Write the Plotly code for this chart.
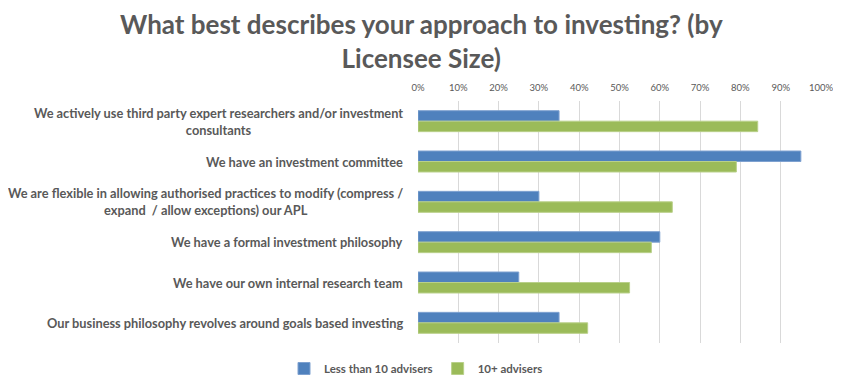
import plotly.graph_objects as go

categories = [
    "We actively use third party expert researchers and/or investment<br>consultants",
    "We have an investment committee",
    "We are flexible in allowing authorised practices to modify (compress /<br>expand  / allow exceptions) our APL",
    "We have a formal investment philosophy",
    "We have our own internal research team",
    "Our business philosophy revolves around goals based investing",
]
less_than_10 = [0.35, 0.95, 0.30, 0.60, 0.25, 0.35]
ten_plus = [0.843, 0.79, 0.631, 0.579, 0.525, 0.421]
x_ticks = [i / 10 for i in range(11)]
x_tick_labels = [f"{i*10}%" for i in range(11)]
title_text = "What best describes your approach to investing? (by<br>Licensee Size)"

FONT = "Lato"
GREY = "#595959"
OFF = 8  # browser body margin
W, H = 841 - OFF, 385 - OFF
L, R, T, B = 418 - OFF, 20, 101 - OFF, 42
PH = H - T - B
PW = W - L - R


def px_x(page_x):
    return (page_x - OFF - L) / PW


def px_y(page_y):
    return (H - B - (page_y - OFF)) / PH


fig = go.Figure()
fig.add_trace(go.Bar(y=categories, x=less_than_10, orientation="h", name="Less than 10 advisers",
                     marker=dict(color="#4F81BD", line=dict(color="#7EA1D0", width=1))))
fig.add_trace(go.Bar(y=categories, x=ten_plus, orientation="h", name="10+ advisers",
                     marker=dict(color="#9BBB59", line=dict(color="#B9D08A", width=1))))

for c in categories:
    fig.add_annotation(x=px_x(405), xref="paper", y=c, yref="y", text=c, showarrow=False,
                       xanchor="right", align="center",
                       font=dict(family=FONT, size=12.8, color=GREY, weight="bold"))

fig.add_annotation(x=px_x(421), xref="paper", y=px_y(41), yref="paper",
                   xanchor="center", yanchor="middle", text=title_text, showarrow=False,
                   align="center", borderpad=0,
                   font=dict(family=FONT, size=26, color=GREY, weight="bold"))

fig.update_layout(
    width=W, height=H,
    margin=dict(l=L, r=R, t=T, b=B, autoexpand=False),
    paper_bgcolor="white", plot_bgcolor="white",
    barmode="group", bargap=0.48, bargroupgap=0,
    xaxis=dict(side="top", range=[0, 1.0], tickvals=x_ticks, ticktext=x_tick_labels,
               showgrid=True, gridcolor="#D9D9D9", gridwidth=1, zeroline=False, automargin=False,
               showline=False, ticks="", ticklabelstandoff=7,
               tickfont=dict(family=FONT, size=9.5, color=GREY)),
    yaxis=dict(autorange="reversed", showticklabels=False, showgrid=False, zeroline=False,
               ticks="", automargin=False),
    legend=dict(orientation="h", x=px_x(416), xref="paper", xanchor="center",
                y=px_y(354), yanchor="top", itemwidth=30,
                font=dict(family=FONT, size=11.5, color=GREY, weight="bold")),
    showlegend=True,
)

fig.write_html("out.html")
